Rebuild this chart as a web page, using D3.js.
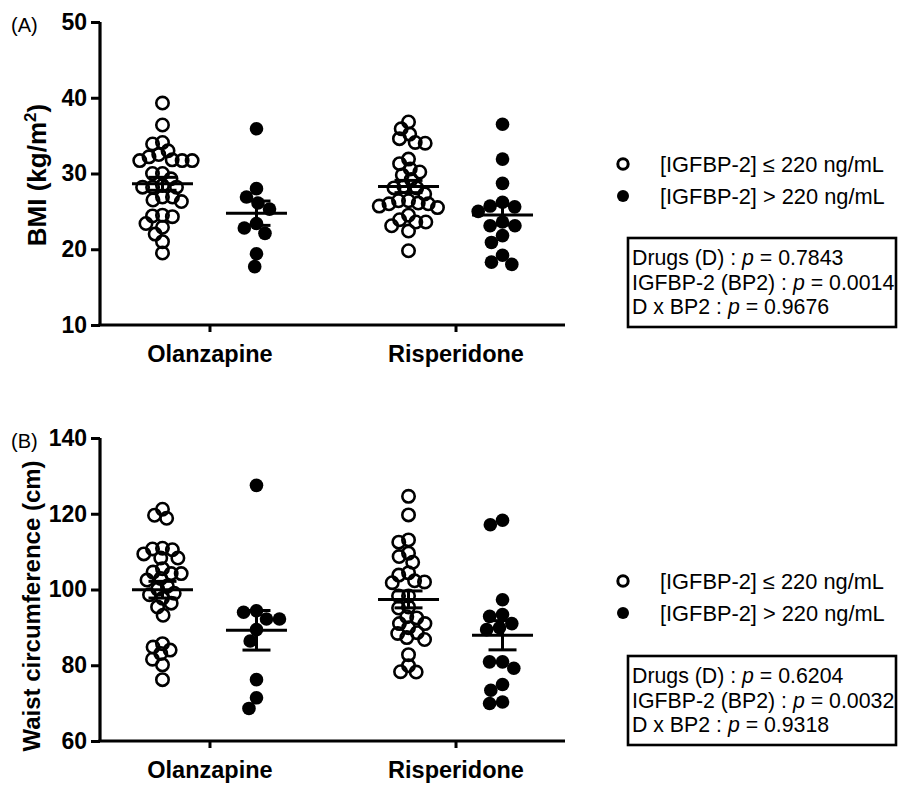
<!DOCTYPE html>
<html>
<head>
<meta charset="utf-8">
<script src="https://cdn.jsdelivr.net/npm/d3@7"></script>
<style>
  body { margin: 0; background: #fff; }
  svg { display: block; font-family: "Liberation Sans", Arial, Helvetica, sans-serif; }
</style>
</head>
<body>
<svg id="chart" width="900" height="786"></svg>
<script>
// ---------------- DATA ----------------
const drugs = ["Olanzapine", "Risperidone"];
const groups = ["low", "high"];
const legendLabels = ["[IGFBP-2] \u2264 220 ng/mL", "[IGFBP-2] > 220 ng/mL"];

// Panel A: BMI (kg/m2)
const bmiOlzLow = [39.3, 36.4, 34.1, 33.9, 32.2, 33.0, 32.5, 31.8, 31.7, 31.7, 31.7, 30.0, 30.0, 29.3, 28.4,
                   28.2, 28.2, 28.2, 26.9, 26.5, 26.3, 26.9, 24.3, 24.5, 24.4, 22.9, 23.4, 22.0, 21.0, 19.5];
const bmiOlzHigh = [35.9, 28.0, 26.9, 26.1, 25.3, 23.4, 22.8, 22.1, 19.4, 17.7];
const bmiRisLow = [36.8, 35.2, 35.9, 34.1, 34.0, 34.6, 31.9, 30.6, 31.3, 30.2, 29.8, 29.2, 28.1, 28.1, 28.3,
                   27.3, 26.4, 26.4, 26.0, 26.1, 25.5, 25.7, 26.0, 24.5, 23.6, 23.9, 23.6, 23.1, 22.4, 19.8];
const bmiRisHigh = [36.5, 31.9, 28.7, 26.2, 25.6, 25.7, 25.0, 23.6, 23.1, 23.1, 21.8, 20.9, 19.2, 18.0, 18.3];
const bmiTicks = [10, 20, 30, 40, 50];
const bmiStats = [["Drugs (D)", "0.7843"], ["IGFBP-2 (BP2)", "0.0014"], ["D x BP2", "0.9676"]];

// Panel B: Waist circumference (cm)
const waistOlzLow = [121.2, 118.8, 119.6, 110.9, 110.5, 109.4, 110.7, 108.3, 108.3, 105.5, 104.6, 104.2, 104.2,
                     102.9, 102.5, 100.9, 99.0, 98.6, 100.1, 97.7, 96.4, 95.4, 93.2, 85.7, 84.0, 84.8, 83.1,
                     81.6, 80.1, 76.2];
const waistOlzHigh = [127.5, 94.4, 94.0, 92.2, 92.2, 89.4, 86.4, 76.2, 71.4, 68.6];
const waistRisLow = [124.6, 119.7, 113.1, 112.5, 109.6, 108.7, 107.2, 103.8, 104.4, 102.3, 102.0, 101.8, 98.3,
                     98.3, 95.1, 95.4, 92.5, 92.8, 91.0, 91.0, 89.9, 88.6, 88.4, 87.3, 86.8, 82.8, 79.9, 78.3, 78.2];
const waistRisHigh = [118.3, 117.1, 97.3, 92.9, 93.4, 91.0, 89.9, 89.4, 80.9, 79.2, 80.9, 74.9, 73.4, 69.9, 70.3];
const waistTicks = [60, 80, 100, 120, 140];
const waistStats = [["Drugs (D)", "0.6204"], ["IGFBP-2 (BP2)", "0.0032"], ["D x BP2", "0.9318"]];

// ---------------- DRAWING ----------------
const svg = d3.select("#chart");

function swarm(values, yScale, D) {
  const pts = values.map(v => ({ v, y: yScale(v) })).sort((a, b) => a.y - b.y);
  const placed = [];
  for (const p of pts) {
    const iv = placed.filter(q => Math.abs(q.y - p.y) < D).map(q => {
      const w = Math.sqrt(D * D - (q.y - p.y) ** 2);
      return [q.x - w, q.x + w];
    });
    const cands = [0, ...iv.flat()].sort((a, b) => Math.abs(a) - Math.abs(b) || a - b);
    for (const c of cands) {
      if (!iv.some(i => c > i[0] + 1e-6 && c < i[1] - 1e-6)) { p.x = c; break; }
    }
    placed.push(p);
  }
  return pts;
}

function drawPanel(cfg) {
  const g = svg.append("g").attr("transform", `translate(0,${cfg.top})`);
  const y = d3.scaleLinear().domain(cfg.domain).range([303, 0]);
  const x = d3.scalePoint().domain(drugs).range([100, 565]).padding(0.445);
  const xg = d3.scalePoint().domain(groups).range([-47, 47]);

  // axes
  const yAxis = d3.axisLeft(y).tickValues(cfg.ticks).tickSize(9).tickPadding(4).tickSizeOuter(0);
  const ya = g.append("g").attr("transform", "translate(100,0)").call(yAxis);
  ya.select(".domain").attr("stroke-width", 3.2).attr("d", "M0,0V303");
  ya.selectAll(".tick line").attr("stroke-width", 3);
  ya.selectAll(".tick text").attr("font-size", 23).attr("font-weight", "bold").attr("fill", "#000");

  const xAxis = d3.axisBottom(x).tickSize(7).tickPadding(13).tickSizeOuter(0);
  const xa = g.append("g").attr("transform", "translate(0,303)").call(xAxis);
  xa.select(".domain").attr("stroke-width", 3.2).attr("d", "M98.4,0H565");
  xa.selectAll(".tick line").attr("stroke-width", 3);
  xa.selectAll(".tick text").attr("font-size", 23.5).attr("font-weight", "bold").attr("fill", "#000");

  // y title
  const t = g.append("text")
    .attr("transform", `translate(${cfg.titleX},${cfg.titleY}) rotate(-90)`)
    .attr("text-anchor", "middle")
    .attr("font-size", cfg.titleSize).attr("font-weight", "bold");
  cfg.title(t);

  // panel label
  g.append("text").attr("x", 11).attr("y", 10).attr("font-size", 20).text(cfg.label);

  // points
  cfg.series.forEach(s => {
    const cx = x(s.drug) + xg(s.group);
    const filled = s.group === "high";
    const pts = swarm(s.values, y, filled ? 13 : 10);
    g.append("g").selectAll("circle").data(pts).join("circle")
      .attr("cx", d => cx + d.x).attr("cy", d => d.y)
      .attr("r", filled ? 6.8 : 6.2)
      .attr("fill", filled ? "#000" : "none")
      .attr("stroke", "#000").attr("stroke-width", filled ? 0 : 2.6);

    const m = d3.mean(s.values);
    const sem = d3.deviation(s.values) / Math.sqrt(s.values.length);
    const eb = g.append("g").attr("stroke", "#000").attr("stroke-width", 3);
    eb.append("line").attr("x1", cx - 30.5).attr("x2", cx + 30.5).attr("y1", y(m)).attr("y2", y(m));
    eb.append("line").attr("x1", cx).attr("x2", cx).attr("y1", y(m - sem)).attr("y2", y(m + sem));
    eb.append("line").attr("x1", cx - 14).attr("x2", cx + 14).attr("y1", y(m - sem)).attr("y2", y(m - sem));
    eb.append("line").attr("x1", cx - 14).attr("x2", cx + 14).attr("y1", y(m + sem)).attr("y2", y(m + sem));
  });

  // legend
  const lg = g.append("g");
  legendLabels.forEach((lab, i) => {
    const ly = cfg.legendY + i * 32;
    lg.append("circle").attr("cx", 623).attr("cy", ly)
      .attr("r", i === 0 ? 5.2 : 6)
      .attr("fill", i === 0 ? "none" : "#000")
      .attr("stroke", "#000").attr("stroke-width", i === 0 ? 3 : 0);
    lg.append("text").attr("x", 660).attr("y", ly + 7.5).attr("font-size", 21.8).text(lab);
  });

  // stats box
  const by = cfg.boxY;
  g.append("rect").attr("x", 628).attr("y", by).attr("width", 268).attr("height", 89)
    .attr("fill", "none").attr("stroke", "#000").attr("stroke-width", 2.6);
  cfg.stats.forEach((st, i) => {
    const tx = g.append("text").attr("x", 632).attr("y", by + 27 + i * 24.5).attr("font-size", 21.3);
    tx.append("tspan").text(st[0] + " : ");
    tx.append("tspan").attr("font-style", "italic").text("p");
    tx.append("tspan").text(" = " + st[1]);
  });
}

drawPanel({
  top: 22, domain: [10, 50], ticks: bmiTicks, label: "(A)", titleX: 46, titleY: 153, titleSize: 26,
  title: t => {
    t.append("tspan").text("BMI (kg/m");
    t.append("tspan").attr("font-size", 17).attr("dy", -10).text("2");
    t.append("tspan").attr("dy", 10).text(")");
  },
  series: [
    { drug: "Olanzapine", group: "low", values: bmiOlzLow },
    { drug: "Olanzapine", group: "high", values: bmiOlzHigh },
    { drug: "Risperidone", group: "low", values: bmiRisLow },
    { drug: "Risperidone", group: "high", values: bmiRisHigh }
  ],
  legendY: 142, boxY: 216, stats: bmiStats
});

drawPanel({
  top: 438, domain: [60, 140], ticks: waistTicks, label: "(B)", titleX: 40, titleY: 168, titleSize: 24,
  title: t => t.text("Waist circumference (cm)"),
  series: [
    { drug: "Olanzapine", group: "low", values: waistOlzLow },
    { drug: "Olanzapine", group: "high", values: waistOlzHigh },
    { drug: "Risperidone", group: "low", values: waistRisLow },
    { drug: "Risperidone", group: "high", values: waistRisHigh }
  ],
  legendY: 143, boxY: 218, stats: waistStats
});
</script>
</body>
</html>
